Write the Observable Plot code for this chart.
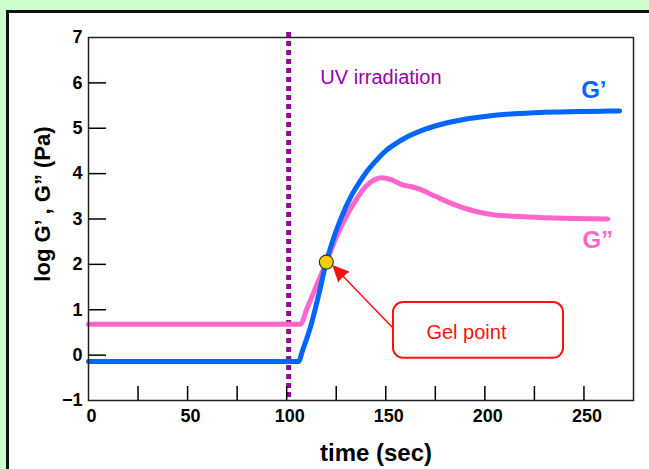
<!DOCTYPE html>
<html>
<head>
<meta charset="utf-8">
<script src="https://cdn.jsdelivr.net/npm/d3@7"></script>
<script src="https://cdn.jsdelivr.net/npm/@observablehq/plot@0.6"></script>
<style>
  html, body { margin: 0; padding: 0; }
  body { background: #ccffcc; width: 649px; height: 469px; overflow: hidden; position: relative; }
  #panel { position: absolute; left: 6px; top: 10px; width: 700px; height: 520px;
           border-left: 3px solid #111; border-top: 3px solid #111; background: #ffffff; }
  #chart { position: absolute; left: 0; top: 0; }
</style>
</head>
<body>
<div id="panel"></div>
<div id="chart"></div>
<script>
// ---- data ----
const timeGp   = [0, 106, 108, 112, 116, 120, 124, 128, 132, 136, 140, 145, 150, 155, 160, 170, 180, 190, 200, 215, 230, 250, 268];
const logGp    = [-0.14, -0.14, 0.1, 0.62, 1.3, 2.05, 2.62, 3.08, 3.46, 3.76, 4.02, 4.28, 4.5, 4.66, 4.79, 4.98, 5.11, 5.2, 5.26, 5.32, 5.35, 5.37, 5.38];
const timeGpp  = [0, 107, 110, 114, 120, 125, 130, 135, 140, 145, 148, 153, 158, 163, 168, 175, 185, 195, 205, 215, 230, 245, 262];
const logGpp   = [0.68, 0.68, 1.0, 1.42, 2.05, 2.6, 3.05, 3.42, 3.72, 3.88, 3.91, 3.86, 3.76, 3.71, 3.64, 3.5, 3.31, 3.17, 3.09, 3.06, 3.03, 3.01, 3.0];
const uvTime   = 101;
const gelPoint = [{time: 120, logG: 2.05}];
const xTickLabels = [0, 50, 100, 150, 200, 250];
const xTickMarks  = [25, 50, 75, 100, 125, 150, 175, 200, 225, 250];
const yTickLabels = [-1, 0, 1, 2, 3, 4, 5, 6, 7];
const yTickMarks  = [0, 1, 2, 3, 4, 5, 6];
// annotation anchors (data space)
const uvLabel   = [{time: 117, logG: 6.12, text: "UV irradiation"}];
const gpLabel   = [{time: 255, logG: 5.83, text: "G\u2019"}];
const gppLabel  = [{time: 257, logG: 2.53, text: "G\u201D"}];
const gelArrow  = [{t1: 153.4, v1: 0.61, t2: 123.6, v2: 1.96}];
const gelBox    = [{t1: 153.9, t2: 239.7, v1: -0.07, v2: 1.16}];
const gelLabel  = [{time: 190.7, logG: 0.5, text: "Gel point"}];

const gp  = timeGp.map((t, i) => ({time: t, logG: logGp[i]}));
const gpp = timeGpp.map((t, i) => ({time: t, logG: logGpp[i]}));

const font = "'Liberation Sans', Arial, Helvetica, sans-serif";

const chart = Plot.plot({
  width: 649, height: 469,
  marginLeft: 88, marginRight: 16, marginTop: 37, marginBottom: 69,
  style: {background: "transparent", color: "#000", fontFamily: font},
  x: {domain: [0, 275]},
  y: {domain: [-1, 7]},
  marks: [
    Plot.ruleX([uvTime], {stroke: "#990099", strokeWidth: 5, strokeDasharray: "5,4", insetTop: -5}),
    Plot.line(gpp, {x: "time", y: "logG", stroke: "#ff66cc", strokeWidth: 5, curve: "monotone-x"}),
    Plot.line(gp, {x: "time", y: "logG", stroke: "#0066ff", strokeWidth: 5, curve: "monotone-x"}),
    Plot.frame({stroke: "#222", strokeWidth: 1.5}),
    Plot.axisY(yTickLabels, {tickSize: 0, tickPadding: 6, fontSize: 18, fontWeight: "bold", label: null}),
    Plot.axisY(yTickMarks, {tickSize: -18, tickFormat: () => "", label: null, strokeWidth: 1.5}),
    Plot.axisX(xTickLabels, {tickSize: 0, tickPadding: 9, fontSize: 18, fontWeight: "bold", label: null, dx: 3}),
    Plot.axisX(xTickMarks, {tickSize: -14, tickFormat: () => "", label: null, strokeWidth: 1.5}),
    Plot.text(["log G\u2019 , G\u201D (Pa)"], {frameAnchor: "left", rotate: -90, textAnchor: "middle", lineAnchor: "middle", dx: -46, dy: -15, fontSize: 22, fontWeight: "bold", fill: "#000"}),
    Plot.text(["time (sec)"], {frameAnchor: "bottom", textAnchor: "middle", lineAnchor: "middle", dx: 15, dy: 53, fontSize: 24, fontWeight: "bold", fill: "#000"}),
    Plot.text(uvLabel, {x: "time", y: "logG", text: "text", textAnchor: "start", fill: "#9900aa", fontSize: 20}),
    Plot.text(gpLabel, {x: "time", y: "logG", text: "text", fill: "#0066ff", fontSize: 24, fontWeight: "bold"}),
    Plot.text(gppLabel, {x: "time", y: "logG", text: "text", fill: "#ff66cc", fontSize: 24, fontWeight: "bold"}),
    Plot.rect(gelBox, {x1: "t1", x2: "t2", y1: "v1", y2: "v2", fill: "#fff", stroke: "#ff1111", strokeWidth: 2, rx: 10}),
    Plot.text(gelLabel, {x: "time", y: "logG", text: "text", fill: "#ff1111", fontSize: 20}),
    Plot.arrow(gelArrow, {x1: "t1", y1: "v1", x2: "t2", y2: "v2", stroke: "#ff1111", fill: "#ff1111", strokeWidth: 1.5, headLength: 16, headAngle: 50, strokeLinejoin: "miter"}),
    Plot.dot(gelPoint, {x: "time", y: "logG", r: 7, fill: "#ffcc00", stroke: "#333", strokeWidth: 1.2})
  ]
});
document.getElementById("chart").appendChild(chart);
</script>
</body>
</html>
